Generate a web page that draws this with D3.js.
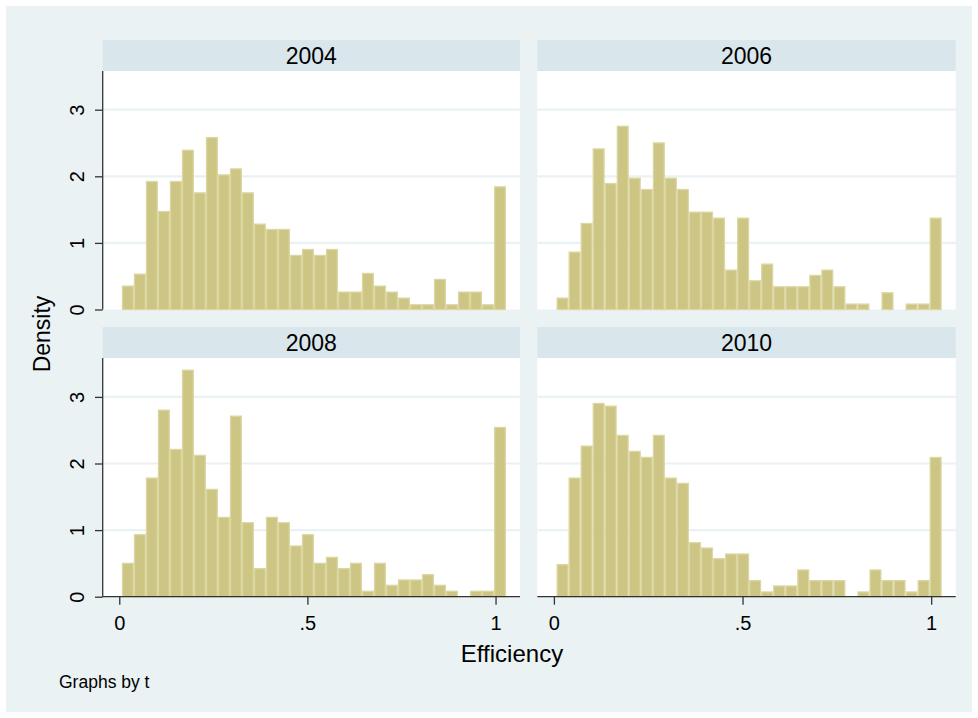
<!DOCTYPE html>
<html>
<head>
<meta charset="utf-8">
<script src="https://cdn.jsdelivr.net/npm/d3@7"></script>
<style>
  html, body { margin: 0; padding: 0; background: #ffffff; }
  svg { display: block; }
  text { font-family: "Liberation Sans", Arial, sans-serif; fill: #000; }
</style>
</head>
<body>
<div id="chart"></div>
<script>
// ---- data ----
const years = ["2004", "2006", "2008", "2010"];
const binStart = 0.007;
const binWidth = 0.0319;
const density2004 = [0.36, 0.54, 1.93, 1.48, 1.93, 2.40, 1.76, 2.59, 2.03, 2.12, 1.76, 1.29, 1.21, 1.21, 0.82, 0.91, 0.82, 0.91, 0.27, 0.27, 0.55, 0.36, 0.27, 0.18, 0.08, 0.08, 0.46, 0.08, 0.27, 0.27, 0.08, 1.85];
const density2006 = [0.18, 0.87, 1.30, 2.42, 1.90, 2.76, 1.98, 1.81, 2.51, 1.98, 1.81, 1.47, 1.47, 1.38, 0.60, 1.38, 0.44, 0.69, 0.35, 0.35, 0.35, 0.52, 0.60, 0.35, 0.09, 0.09, 0, 0.26, 0, 0.09, 0.09, 1.38];
const density2008 = [0.51, 0.94, 1.79, 2.81, 2.22, 3.41, 2.13, 1.62, 1.20, 2.72, 1.12, 0.43, 1.20, 1.12, 0.77, 0.94, 0.51, 0.60, 0.43, 0.51, 0.09, 0.51, 0.18, 0.26, 0.26, 0.34, 0.18, 0.09, 0, 0.09, 0.09, 2.55];
const density2010 = [0.49, 1.79, 2.27, 2.91, 2.87, 2.43, 2.19, 2.10, 2.43, 1.79, 1.71, 0.82, 0.74, 0.58, 0.65, 0.65, 0.25, 0.08, 0.17, 0.17, 0.41, 0.25, 0.25, 0.25, 0, 0.08, 0.41, 0.25, 0.25, 0.08, 0.25, 2.10];
const seriesList = [density2004, density2006, density2008, density2010];
const xTicks = [0, 0.5, 1];
const xTickLabels = ["0", ".5", "1"];
const yTicks = [0, 1, 2, 3];
const yTickLabels = ["0", "1", "2", "3"];
const xTitle = "Efficiency";
const yTitle = "Density";
const note = "Graphs by t";

// ---- layout ----
const W = 978, H = 718;
const colX = [[102.7, 520], [537.3, 955.7]];
const rowY = [{ head: 40, top: 71, base: 309.5 }, { head: 327, top: 358, base: 596.7 }];
const xDomain = [-0.044, 1.065];

const bg = "#eaf2f3";
const headFill = "#d9e6ec";
const gridCol = "#eaf2f3";
const barFill = "#ccc584";
const barStroke = "#dcd7a2";
const axisCol = "#333333";

const svg = d3.select("#chart").append("svg")
  .attr("width", W).attr("height", H);

svg.append("rect").attr("x", 0).attr("y", 0).attr("width", W).attr("height", H).attr("fill", "#ffffff");
svg.append("rect").attr("x", 6).attr("y", 6).attr("width", W - 12).attr("height", H - 12).attr("fill", bg);

years.forEach((yr, i) => {
  const col = i % 2, row = Math.floor(i / 2);
  const [x0, x1] = colX[col];
  const r = rowY[row];
  const x = d3.scaleLinear().domain(xDomain).range([x0, x1]);
  const y = d3.scaleLinear().domain([0, 3]).range([r.base, r.base - 3 * 66.6]);
  const g = svg.append("g");

  // header strip
  g.append("rect").attr("x", x0).attr("y", r.head).attr("width", x1 - x0).attr("height", r.top - r.head).attr("fill", headFill);
  g.append("text").attr("x", (x0 + x1) / 2).attr("y", r.head + 23.5)
    .attr("text-anchor", "middle").style("font-size", "23px").text(yr);

  // plot region
  g.append("rect").attr("x", x0).attr("y", r.top).attr("width", x1 - x0).attr("height", r.base - r.top).attr("fill", "#ffffff");

  // grid lines
  g.selectAll("line.grid").data(yTicks.slice(1)).enter().append("line")
    .attr("x1", x0).attr("x2", x1)
    .attr("y1", d => y(d)).attr("y2", d => y(d))
    .attr("stroke", gridCol).attr("stroke-width", 2.2);

  // bars
  const data = seriesList[i].map((v, k) => ({ lo: binStart + k * binWidth, hi: binStart + (k + 1) * binWidth, v }));
  g.selectAll("rect.bar").data(data.filter(d => d.v > 0)).enter().append("rect")
    .attr("x", d => x(d.lo) + 0.6)
    .attr("width", d => x(d.hi) - x(d.lo) - 1.2)
    .attr("y", d => y(d.v) + 0.6)
    .attr("height", d => Math.max(0, y(0) - y(d.v) - 0.6))
    .attr("fill", barFill).attr("stroke", barStroke).attr("stroke-width", 1.3);

  // y axis on left column
  if (col === 0) {
    const ya = d3.axisLeft(y).tickValues(yTicks).tickFormat((d, k) => yTickLabels[k]).tickSize(7.7).tickPadding(0);
    const ag = g.append("g").attr("transform", `translate(${x0},0)`).call(ya);
    ag.select(".domain").attr("d", `M0,${r.top}V${r.base}`).attr("stroke", axisCol).attr("stroke-width", 1.3);
    ag.selectAll(".tick line").attr("stroke", axisCol).attr("stroke-width", 1.3);
    ag.selectAll(".tick text")
      .attr("x", 0).attr("y", 0).attr("dy", 0)
      .attr("text-anchor", "middle")
      .attr("transform", "translate(-18.5,0) rotate(-90)")
      .style("font-size", "20px").attr("fill", "#000");
  }
  // x axis on bottom row
  if (row === 1) {
    const xa = d3.axisBottom(x).tickValues(xTicks).tickFormat((d, k) => xTickLabels[k]).tickSize(8).tickPadding(0);
    const ag = g.append("g").attr("transform", `translate(0,${r.base})`).call(xa);
    ag.select(".domain").attr("d", `M${x0},0H${x1}`).attr("stroke", axisCol).attr("stroke-width", 1.3);
    ag.selectAll(".tick line").attr("stroke", axisCol).attr("stroke-width", 1.3);
    ag.selectAll(".tick text").attr("y", 33).attr("dy", 0)
      .style("font-size", "20px").attr("fill", "#000");
  }
});

// axis titles
svg.append("text").attr("x", 512).attr("y", 662).attr("text-anchor", "middle").style("font-size", "24px").text(xTitle);
svg.append("text").attr("transform", "translate(50,334) rotate(-90)").attr("text-anchor", "middle").style("font-size", "23px").text(yTitle);
svg.append("text").attr("x", 59).attr("y", 688).style("font-size", "17.5px").text(note);
</script>
</body>
</html>
